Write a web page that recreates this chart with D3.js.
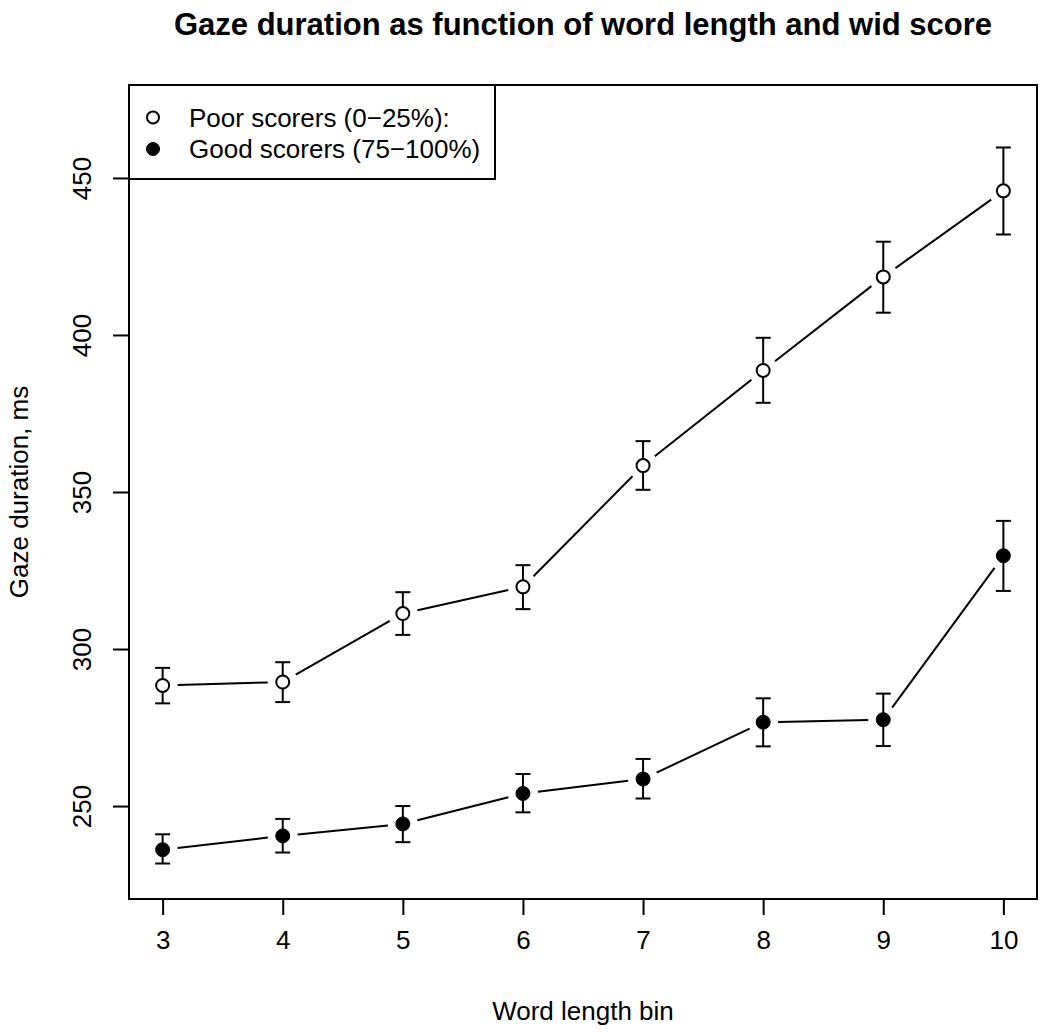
<!DOCTYPE html>
<html>
<head>
<meta charset="utf-8">
<script src="https://cdn.jsdelivr.net/npm/d3@7"></script>
<style>
	html, body { margin: 0; padding: 0; background: #fff; }
	svg { display: block; font-family: "Liberation Sans", Arial, Helvetica, sans-serif; }
</style>
</head>
<body>
<svg id="chart" width="1050" height="1033"></svg>
<script>
// word length bins
const bins = [3, 4, 5, 6, 7, 8, 9, 10];

// poor scorers (0-25%): mean gaze duration and error bar limits
const poorMean = [288.4, 289.5, 311.3, 319.8, 358.4, 388.7, 418.5, 445.9];
const poorLow  = [282.7, 283.1, 304.5, 312.7, 350.7, 378.4, 407.1, 432.0];
const poorHigh = [294.0, 295.8, 318.1, 326.7, 366.2, 399.1, 429.7, 459.7];

// good scorers (75-100%)
const goodMean = [236.1, 240.5, 244.3, 254.0, 258.6, 276.7, 277.5, 329.7];
const goodLow  = [231.7, 235.2, 238.5, 248.0, 252.4, 269.0, 269.1, 318.5];
const goodHigh = [241.0, 245.9, 250.0, 260.2, 265.0, 284.3, 285.8, 340.8];

const yTicks = [250, 300, 350, 400, 450];
const xlim = [3, 10];
const ylim = [230, 470];

const legendLabels = ['Poor scorers (0\u221225%):', 'Good scorers (75\u2212100%)'];

// plot region (R style)
let plotL = 129, plotR = 1037, plotT = 85, plotB = 899;
let color = '#000';
let fontSize = 26;

function expand(lim){
	let d = (lim[1] - lim[0]) * 0.04;
	return [lim[0] - d, lim[1] + d];
}

let x = d3.scaleLinear().domain(expand(xlim)).range([plotL, plotR]);
let y = d3.scaleLinear().domain(expand(ylim)).range([plotB, plotT]);

let svg = d3.select('#chart');
let g = svg.append('g');

// title (cex.main 1.2)
g.append('text')
	.attr('x', (plotL + plotR) / 2)
	.attr('y', 35)
	.attr('text-anchor', 'middle')
	.attr('font-weight', 'bold')
	.attr('font-size', '31px')
	.text('Gaze duration as function of word length and wid score');

// x axis
let xAxis = g.append('g')
	.attr('transform', `translate(0,${plotB})`)
	.call(d3.axisBottom(x).tickValues(bins).tickSize(16).tickPadding(16).tickFormat(d3.format('d')));
xAxis.select('.domain').remove();
xAxis.selectAll('line').attr('stroke', color).attr('stroke-width', 2);
xAxis.selectAll('text').attr('font-size', fontSize + 'px').attr('font-family', null).attr('fill', color);

// y axis, labels rotated like R
let yAxis = g.append('g')
	.attr('transform', `translate(${plotL},0)`)
	.call(d3.axisLeft(y).tickValues(yTicks).tickSize(16).tickFormat(d3.format('d')));
yAxis.select('.domain').remove();
yAxis.selectAll('line').attr('stroke', color).attr('stroke-width', 2);
yAxis.selectAll('text')
	.attr('font-size', fontSize + 'px')
	.attr('font-family', null)
	.attr('fill', color)
	.attr('x', null).attr('dy', null)
	.attr('text-anchor', 'middle')
	.attr('transform', `translate(${91 - plotL},0) rotate(-90)`);

// axis titles
g.append('text')
	.attr('x', (plotL + plotR) / 2)
	.attr('y', 1020)
	.attr('text-anchor', 'middle')
	.attr('font-size', fontSize + 'px')
	.text('Word length bin');

g.append('text')
	.attr('transform', `translate(28,${(plotT + plotB) / 2}) rotate(-90)`)
	.attr('text-anchor', 'middle')
	.attr('font-size', fontSize + 'px')
	.text('Gaze duration, ms');

// box
g.append('rect')
	.attr('x', plotL).attr('y', plotT)
	.attr('width', plotR - plotL).attr('height', plotB - plotT)
	.attr('fill', 'none').attr('stroke', color).attr('stroke-width', 2);

function drawSeries(mean, low, high, filled){
	let pts = bins.map((b, i) => [x(b), y(mean[i])]);
	let gap = 15;
	// type = "b": segments stop short of the points
	for(let i = 0; i < pts.length - 1; i++){
		let p0 = pts[i], p1 = pts[i+1];
		let dx = p1[0] - p0[0], dy = p1[1] - p0[1];
		let len = Math.sqrt(dx*dx + dy*dy);
		if(len <= gap * 2){
			continue;
		}
		let ux = dx / len, uy = dy / len;
		g.append('line')
			.attr('x1', p0[0] + ux*gap).attr('y1', p0[1] + uy*gap)
			.attr('x2', p1[0] - ux*gap).attr('y2', p1[1] - uy*gap)
			.attr('stroke', color).attr('stroke-width', 2);
	}
	// error bars
	let cap = 7.5;
	bins.forEach((b, i) => {
		let cx = x(b);
		let y0 = y(low[i]), y1 = y(high[i]);
		g.append('line')
			.attr('x1', cx).attr('x2', cx).attr('y1', y0).attr('y2', y1)
			.attr('stroke', color).attr('stroke-width', 2);
		g.append('line')
			.attr('x1', cx - cap).attr('x2', cx + cap).attr('y1', y0).attr('y2', y0)
			.attr('stroke', color).attr('stroke-width', 2);
		g.append('line')
			.attr('x1', cx - cap).attr('x2', cx + cap).attr('y1', y1).attr('y2', y1)
			.attr('stroke', color).attr('stroke-width', 2);
	});
	// points
	g.selectAll(null).data(pts).enter().append('circle')
		.attr('cx', d => d[0]).attr('cy', d => d[1])
		.attr('r', filled ? 7 : 6.5)
		.attr('fill', filled ? color : '#fff')
		.attr('stroke', color).attr('stroke-width', filled ? 1 : 2);
}

drawSeries(poorMean, poorLow, poorHigh, false);
drawSeries(goodMean, goodLow, goodHigh, true);

// legend
let legend = g.append('g');
legend.append('rect')
	.attr('x', plotL).attr('y', plotT)
	.attr('width', 495 - plotL).attr('height', 179 - plotT)
	.attr('fill', '#fff').attr('stroke', color).attr('stroke-width', 2);
let rows = [117.5, 149];
legendLabels.forEach((lab, i) => {
	legend.append('circle')
		.attr('cx', 153).attr('cy', rows[i])
		.attr('r', i === 0 ? 6 : 6.5)
		.attr('fill', i === 0 ? '#fff' : color)
		.attr('stroke', color).attr('stroke-width', i === 0 ? 2 : 1);
	legend.append('text')
		.attr('x', 189).attr('y', rows[i])
		.attr('dy', '0.35em')
		.attr('font-size', fontSize + 'px')
		.text(lab);
});
</script>
</body>
</html>
